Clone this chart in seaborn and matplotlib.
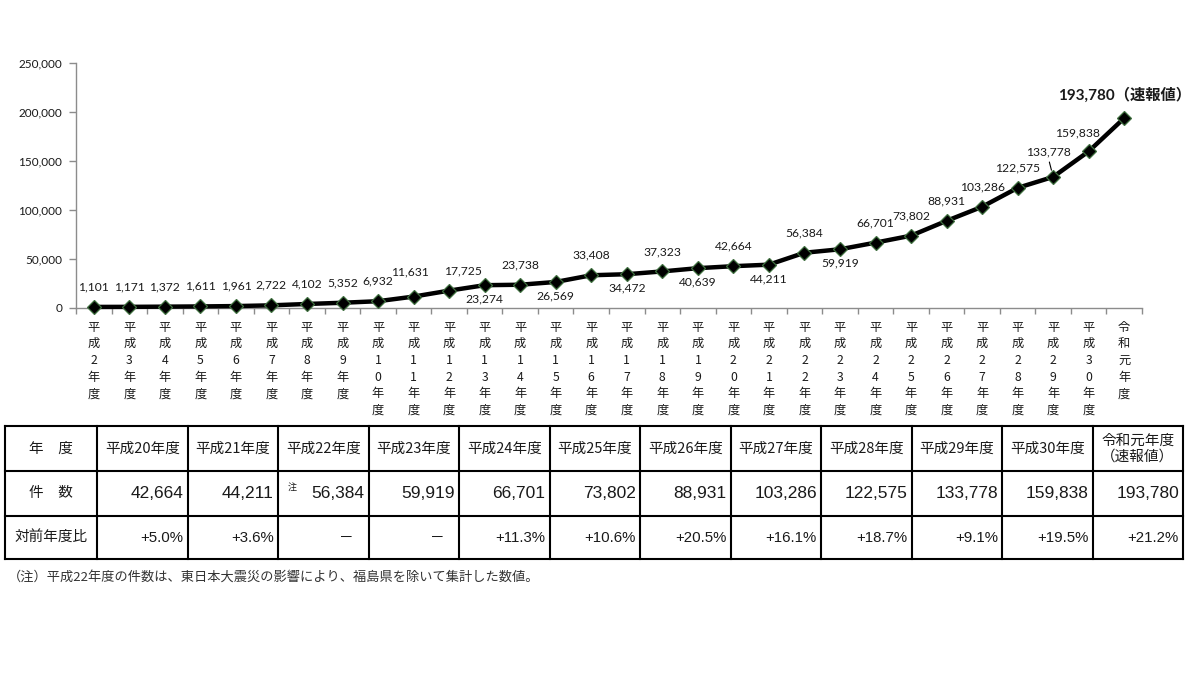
import matplotlib
matplotlib.use("Agg")
import matplotlib.pyplot as plt
import matplotlib.ticker as mticker
import numpy as np
import pandas as pd
import seaborn as sns

# ---------------- data ----------------
years = ["平成2年度", "平成3年度", "平成4年度", "平成5年度", "平成6年度", "平成7年度",
         "平成8年度", "平成9年度", "平成10年度", "平成11年度", "平成12年度", "平成13年度",
         "平成14年度", "平成15年度", "平成16年度", "平成17年度", "平成18年度", "平成19年度",
         "平成20年度", "平成21年度", "平成22年度", "平成23年度", "平成24年度", "平成25年度",
         "平成26年度", "平成27年度", "平成28年度", "平成29年度", "平成30年度", "令和元年度"]
counts = [1101, 1171, 1372, 1611, 1961, 2722, 4102, 5352, 6932, 11631, 17725, 23274,
          23738, 26569, 33408, 34472, 37323, 40639, 42664, 44211, 56384, 59919, 66701,
          73802, 88931, 103286, 122575, 133778, 159838, 193780]
table_years = years[18:]
table_counts = counts[18:]
table_rates = ["+5.0%", "+3.6%", "－", "－", "+11.3%", "+10.6%", "+20.5%", "+16.1%",
               "+18.7%", "+9.1%", "+19.5%", "+21.2%"]
row_titles = ["年　度", "件　数", "対前年度比"]
last_label_suffix = "（速報値）"
footnote = "（注）平成22年度の件数は、東日本大震災の影響により、福島県を除いて集計した数値。"

# label placement styling (offset in pixels from point)
label_dx = [0] * 30
label_dy = [20] * 30
for i in [11, 13, 15, 17, 19, 21]:
    label_dy[i] = -14
label_dx[9], label_dy[9] = -4, 25
label_dx[10], label_dy[10] = 14, 20
label_dx[27], label_dy[27] = -5, 25
label_dx[28], label_dy[28] = -11, 18

# ---------------- style ----------------
sns.set_style("white")
plt.rcParams["font.family"] = ["Noto Sans CJK JP", "DejaVu Sans"]
TXT = "#1a1a1a"
GRAY = "#8c8c8c"

W, H = 1200, 675
fig = plt.figure(figsize=(12, 6.75), dpi=100)
ax = fig.add_axes([76 / W, 1 - 308 / H, (1142 - 76) / W, (308 - 63) / H])

df = pd.DataFrame({"年度": years, "件数": counts})
sns.lineplot(data=df, x="年度", y="件数", sort=False, ax=ax, color="black",
             linewidth=3.2, marker="D", markersize=7, markerfacecolor="black",
             markeredgecolor="#3f6f3f", markeredgewidth=0.9, clip_on=False, zorder=3)

ax.set_xlim(-0.5, len(years) - 0.5)
ax.set_ylim(0, 250000)
ax.set_xlabel("")
ax.set_ylabel("")
for s in ["top", "right"]:
    ax.spines[s].set_visible(False)
for s in ["left", "bottom"]:
    ax.spines[s].set_color(GRAY)
    ax.spines[s].set_linewidth(1.0)

ax.set_yticks(np.arange(0, 250001, 50000))
ax.yaxis.set_major_formatter(mticker.FuncFormatter(lambda v, p: f"{int(v):,}"))
ax.tick_params(axis="y", direction="out", length=5, color=GRAY, width=1,
               labelsize=8.5, pad=5, labelcolor=TXT, left=True)
for t in ax.get_yticklabels():
    t.set_fontfamily(["Lato", "Noto Sans CJK JP"])

ax.set_xticks(range(len(years)))
ax.set_xticklabels(["\n".join(list(y)) for y in years], fontsize=8.8,
                   linespacing=1.37, color=TXT)
ax.set_xticks(np.arange(-0.5, len(years), 1), minor=True)
ax.tick_params(axis="x", which="major", length=0, pad=9, bottom=True)
ax.tick_params(axis="x", which="minor", direction="out", length=4, color=GRAY,
               width=1, bottom=True)

for i, v in enumerate(counts):
    if i == len(counts) - 1:
        ax.annotate(f"{v:,}{last_label_suffix}", (i, v), xytext=(0, 23),
                    textcoords="offset pixels", ha="center", va="center",
                    fontsize=11, fontweight="bold", color=TXT,
                    family=["Lato", "Noto Sans CJK JP"], annotation_clip=False)
    elif i == 27:
        ax.annotate(f"{v:,}", (i, v), xytext=(label_dx[i], label_dy[i]),
                    textcoords="offset pixels", ha="center", va="center",
                    fontsize=8.7, color=TXT, family=["Lato"],
                    arrowprops=dict(arrowstyle="-", color="black", lw=0.8,
                                    relpos=(0.5, 0.0), shrinkA=1, shrinkB=5))
    else:
        ax.annotate(f"{v:,}", (i, v), xytext=(label_dx[i], label_dy[i]),
                    textcoords="offset pixels", ha="center", va="center",
                    fontsize=8.7, color=TXT, family=["Lato"])

# ---------------- table ----------------
tab = fig.add_axes([0, 0, 1, 1], zorder=-1)
tab.set_xlim(0, W)
tab.set_ylim(H, 0)
tab.axis("off")

x0, x1 = 5, 1183
c0 = 97
ncol = len(table_years)
cw = (x1 - c0) / ncol
ys = [426, 471, 516, 559]
for y in ys:
    tab.plot([x0, x1], [y, y], color="black", lw=1.5, solid_capstyle="projecting")
col_edges = [x0] + [c0 + k * cw for k in range(ncol + 1)]
for x in col_edges:
    tab.plot([x, x], [ys[0], ys[-1]], color="black", lw=1.5, solid_capstyle="projecting")

row_c = [(ys[k] + ys[k + 1]) / 2 for k in range(3)]
for k, t in enumerate(row_titles):
    tab.text((x0 + c0) / 2, row_c[k], t, ha="center", va="center", fontsize=10.5, color=TXT)

for j in range(ncol):
    left = c0 + j * cw
    right = left + cw
    name = table_years[j]
    if j == ncol - 1:
        name = name + "\n" + last_label_suffix
    tab.text((left + right) / 2, row_c[0], name, ha="center", va="center",
             fontsize=10.5, color=TXT, linespacing=1.15)
    tab.text(right - 4, row_c[1], f"{table_counts[j]:,}", ha="right", va="center",
             fontsize=12.5, color=TXT, family=["Liberation Sans"])
    r = table_rates[j]
    if r == "－":
        tab.text(right - 22, row_c[2], r, ha="center", va="center", fontsize=10.5, color=TXT)
    else:
        tab.text(right - 4, row_c[2], r, ha="right", va="center", fontsize=10.8,
                 color=TXT, family=["Liberation Sans"])
    if name.startswith("平成22"):
        tab.text(left + 14, row_c[1] - 6, "注", ha="center", va="center", fontsize=6.5, color=TXT)

tab.text(8, 577, footnote, ha="left", va="center", fontsize=9.5, color="#333333")

fig.savefig("out.png", dpi=100)
